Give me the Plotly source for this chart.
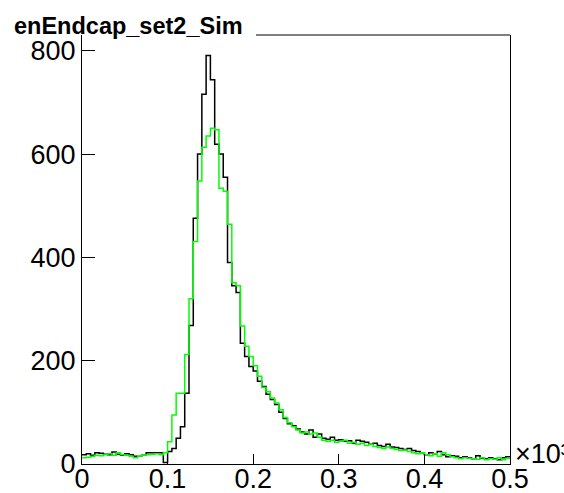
import plotly.graph_objects as go

# bin edges in units of 10^3 (100 bins from 0 to 0.5)
n_bins = 100
bin_lo = 0.0
bin_hi = 0.5

black_counts = [
    18, 20, 17, 22, 21, 19, 18, 23, 19, 17,
    20, 18, 15, 16, 17, 22, 22, 22, 22, 3,
    24, 30, 50, 72, 137, 268, 476, 600, 716, 791,
    744, 619, 600, 555, 390, 345, 332, 234, 208, 189,
    180, 160, 150, 135, 125, 115, 100, 88, 78, 74,
    68, 62, 58, 66, 52, 58, 50, 48, 52, 46,
    47, 44, 45, 40, 46, 44, 42, 38, 40, 36,
    34, 38, 33, 32, 30, 28, 30, 26, 24, 22,
    18, 22, 20, 24, 18, 14, 16, 15, 12, 14,
    12, 10, 16, 11, 10, 12, 10, 8, 12, 14,
]

green_counts = [
    12, 13, 15, 17, 16, 18, 20, 17, 22, 18,
    17, 15, 12, 16, 17, 18, 19, 20, 18, 22,
    43, 95, 137, 137, 212, 320, 431, 548, 613, 635,
    650, 647, 534, 528, 464, 351, 345, 267, 228, 208,
    190, 170, 148, 140, 128, 118, 105, 90, 80, 72,
    66, 60, 62, 58, 60, 52, 46, 44, 46, 42,
    44, 46, 40, 42, 38, 40, 36, 38, 34, 32,
    30, 33, 30, 28, 26, 27, 24, 22, 20, 22,
    18, 16, 20, 15, 22, 18, 14, 12, 10, 12,
    11, 10, 9, 12, 8, 10, 9, 12, 8, 11,
]

x_tick_vals = [0, 0.1, 0.2, 0.3, 0.4, 0.5]
x_tick_text = ["0", "0.1", "0.2", "0.3", "0.4", "0.5"]
y_tick_vals = [0, 200, 400, 600, 800]
y_tick_text = ["0", "200", "400", "600", "800"]

title_text = "enEndcap_set2_Sim"
exponent_text = "×10³"

width = (bin_hi - bin_lo) / n_bins
edges = [bin_lo + i * width for i in range(n_bins + 1)]


def step_xy(counts):
    xs = list(edges)
    ys = list(counts) + [counts[-1]]
    return xs, ys


W, H = 564, 493
ml, mr, mt, mb = 82, 54, 35, 29
pw = W - ml - mr
ph = H - mt - mb

font_family = "Liberation Sans, Arial, Helvetica, sans-serif"

fig = go.Figure()
bx, by = step_xy(black_counts)
gx, gy = step_xy(green_counts)
fig.add_trace(go.Scatter(x=bx, y=by, mode="lines", line=dict(color="black", width=1.5, shape="hv"),
                         showlegend=False, hoverinfo="skip"))
fig.add_trace(go.Scatter(x=gx, y=gy, mode="lines", line=dict(color="#00ff00", width=1.5, shape="hv"),
                         showlegend=False, hoverinfo="skip"))

ymax = max(black_counts) * 1.05

fig.update_layout(
    width=W, height=H,
    margin=dict(l=ml, r=mr, t=mt, b=mb, pad=0, autoexpand=False),
    paper_bgcolor="white", plot_bgcolor="white",
    font=dict(family=font_family, color="black"),
    showlegend=False,
    xaxis=dict(range=[bin_lo, bin_hi], tickvals=x_tick_vals, ticktext=x_tick_text,
               ticks="inside", ticklen=10, tickwidth=1, tickcolor="black", automargin=False,
               ticklabelstandoff=-9,
               showline=True, linecolor="black", linewidth=1, mirror=False,
               showgrid=False, zeroline=False, tickfont=dict(size=27, family=font_family)),
    yaxis=dict(range=[0, ymax], tickvals=y_tick_vals, ticktext=y_tick_text,
               ticks="inside", ticklen=13, tickwidth=1, tickcolor="black", automargin=False,
               showline=True, linecolor="black", linewidth=1, mirror=True,
               showgrid=False, zeroline=False, tickfont=dict(size=27, family=font_family)),
)

# top frame line (partially hidden by title box in original)
fig.add_shape(type="line", xref="paper", yref="paper",
              x0=(256 - ml) / pw, x1=1, y0=1, y1=1,
              line=dict(color="black", width=1))

fig.add_annotation(text="<b>" + title_text + "</b>", xref="paper", yref="paper",
                   x=(12 - ml) / pw, y=(H - mb - 26) / ph, xanchor="left", yanchor="middle",
                   showarrow=False, font=dict(size=23.5, family=font_family, color="black"))

fig.add_annotation(text=exponent_text, xref="paper", yref="paper",
                   x=(513 - ml) / pw, y=(H - mb - 454) / ph, xanchor="left", yanchor="middle",
                   showarrow=False, font=dict(size=27, family=font_family, color="black"))

fig.write_html("out.html")
